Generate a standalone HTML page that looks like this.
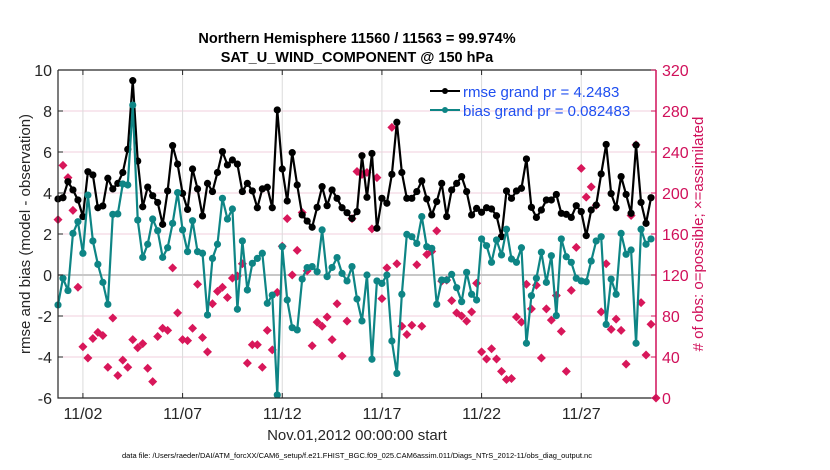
<!DOCTYPE html>
<html><head><meta charset="utf-8">
<style>
html,body{margin:0;padding:0;background:#fff;}
svg{display:block;font-family:"Liberation Sans",Arial,sans-serif;}
</style></head>
<body>
<svg id="chart" width="830" height="470" viewBox="0 0 830 470" xmlns="http://www.w3.org/2000/svg">
<text x="357" y="43" text-anchor="middle" font-size="14.5" font-weight="bold" fill="#000">Northern Hemisphere 11560 / 11563 = 99.974%</text>
<text x="357" y="62" text-anchor="middle" font-size="14.5" font-weight="bold" fill="#000">SAT_U_WIND_COMPONENT @ 150 hPa</text>
<g id="grid"></g>
<g id="marks"></g>
<g id="axes"></g>
<text transform="translate(30,234) rotate(-90)" text-anchor="middle" font-size="15" fill="#262626">rmse and bias (model - observation)</text>
<text transform="translate(703,234) rotate(-90)" text-anchor="middle" font-size="15" fill="#d0105a"># of obs: o=possible; ×=assimilated</text>
<text x="357" y="440" text-anchor="middle" font-size="15" fill="#262626">Nov.01,2012 00:00:00 start</text>
<text x="357" y="458" text-anchor="middle" font-size="7.5" fill="#000">data file: /Users/raeder/DAI/ATM_forcXX/CAM6_setup/f.e21.FHIST_BGC.f09_025.CAM6assim.011/Diags_NTrS_2012-11/obs_diag_output.nc</text>
<g>
  <line x1="430" y1="91" x2="460" y2="91" stroke="#000" stroke-width="2"/>
  <circle cx="445" cy="91" r="3" fill="#000"/>
  <text x="463" y="97" font-size="15" fill="#1f4ff0">rmse grand pr = 4.2483</text>
  <line x1="430" y1="110" x2="460" y2="110" stroke="#0e8585" stroke-width="2"/>
  <circle cx="445" cy="110" r="3" fill="#0e8585"/>
  <text x="463" y="116" font-size="15" fill="#1f4ff0">bias grand pr = 0.082483</text>
</g>
</svg>
<script>
const rmse = [3.71,3.77,4.55,4.15,3.66,2.85,5.04,4.88,3.28,3.37,4.72,4.2,4.47,5.0,6.13,9.48,5.56,3.33,4.29,3.87,3.54,2.47,4.1,6.31,5.41,3.98,3.2,5.17,4.2,2.88,4.47,
4.07,5.0,6.02,5.37,5.61,5.41,4.07,4.47,4.1,3.28,4.2,4.28,3.28,8.05,5.17,3.61,5.97,4.39,2.93,2.63,2.33,3.3,4.31,3.38,4.15,3.74,3.28,3.04,2.76,3.09,
5.82,3.79,5.93,2.28,3.74,3.5,4.91,7.45,5.0,3.74,3.74,4.07,4.59,3.71,2.93,3.58,4.47,2.85,4.15,4.47,4.8,4.07,2.93,3.25,3.06,3.28,3.22,2.89,1.87,4.1,
3.74,4.1,4.23,5.66,3.3,2.81,3.17,3.66,3.66,3.93,3.01,2.96,2.81,3.38,3.09,1.92,3.17,3.41,4.93,6.37,3.97,3.28,4.8,3.93,3.01,6.34,3.54,2.52,3.77];
const bias = [-1.46,-0.16,-0.76,2.03,2.6,1.06,3.9,1.66,0.52,-0.36,-1.43,2.96,2.98,4.44,4.39,8.29,2.68,0.86,1.5,2.73,2.16,0.86,1.33,2.52,4.02,2.2,1.14,2.65,1.14,1.06,-1.95,
0.81,1.5,3.74,2.73,3.22,-1.67,1.66,-0.73,0.57,0.81,1.06,-1.38,-0.98,-5.85,1.38,-1.22,-2.57,-2.68,-0.2,0.36,0.41,0.16,2.2,-0.08,0.37,0.85,0.08,-0.29,0.41,-1.17,
-2.24,0,-4.11,-0.29,-0.41,0,-3.22,-4.8,-0.94,1.98,1.87,1.54,2.85,1.38,1.3,-1.43,-0.24,-0.24,0.03,-0.62,-1.3,0.13,-0.94,-1.22,1.76,1.43,0.62,1.71,0.98,2.23,
0.78,0.62,1.33,-3.33,-1.01,-0.16,1.11,-0.36,0.94,-1.98,1.76,0.89,0.62,-0.16,-0.29,-0.33,0.68,1.66,1.87,-2.41,-0.2,-0.94,2.03,1.01,1.22,-3.33,2.23,1.5,1.76];
const nobs = [174,227,215,183,108,50,39,58,64,61,30,78,22,37,30,57,49,53,29,16,60,68,66,127,83,57,56,68,111,59,45,
92,104,108,98,117,119,131,34,52,52,30,66,47,103,148,175,120,144,181,124,51,74,70,79,57,92,41,75,175,221,
218,220,165,215,97,127,264,131,70,62,71,130,70,140,143,163,114,115,95,83,80,75,84,112,45,38,48,38,26,18,
19,79,74,111,87,110,39,87,76,100,65,26,105,147,224,196,206,188,84,131,67,77,66,33,178,247,93,42,72,0];
const yTicks = [-6,-4,-2,0,2,4,6,8,10];
const y2Ticks = [0,40,80,120,160,200,240,280,320];
const xTickIdx = [5,25,45,65,85,105];
const xTickLabels = ["11/02","11/07","11/12","11/17","11/22","11/27"];

const L=58,R=656,T=70,B=398;
const NS="http://www.w3.org/2000/svg";
function xS(i){return L + i*(R-L)/120;}
function yS(v){return B - (v+6)/16*(B-T);}
function y2S(v){return B - v/320*(B-T);}
function mk(tag,attrs,parent){const e=document.createElementNS(NS,tag);for(const k in attrs)e.setAttribute(k,attrs[k]);parent.appendChild(e);return e;}
const grid=document.getElementById('grid'),marks=document.getElementById('marks'),axes=document.getElementById('axes');

yTicks.forEach(v=>{if(v===0||v===10||v===-6)return;
  const g=mk('line',{x1:L,x2:R,y1:yS(v),y2:yS(v),stroke:'#f2cfdc','stroke-width':1},grid);
  
  });
xTickIdx.forEach(i=>{
  const g=mk('line',{x1:xS(i),x2:xS(i),y1:T,y2:B,stroke:'#dcdcdc','stroke-width':1},grid);
  
  });
const zl=mk('line',{x1:L,x2:R,y1:yS(0),y2:yS(0),stroke:'#c8c8c8','stroke-width':2},grid);



nobs.forEach((v,i)=>{
  const x=xS(i),y=y2S(v),s=4.5;
  const d=mk('polygon',{points:`${x},${y-s} ${x+s},${y} ${x},${y+s} ${x-s},${y}`,fill:'#d8175a'},marks);
  
  
});
function series(arr,color,name){
  const p=mk('polyline',{points:arr.map((v,i)=>xS(i)+','+yS(v)).join(' '),fill:'none',stroke:color,'stroke-width':2.2,'stroke-linejoin':'round'},marks);
  
  
  arr.forEach((v,i)=>{
    const c=mk('circle',{cx:xS(i),cy:yS(v),r:3.6,fill:color},marks);
    
    
  });
}
series(rmse,'#000','rmse');
series(bias,'#0e8585','bias');

const fr=mk('path',{d:`M${L},${T}H${R}M${L},${T}V${B}H${R}`,stroke:'#262626','stroke-width':1.2,fill:'none'},axes);


const ra=mk('line',{x1:R,x2:R,y1:T,y2:B,stroke:'#d0105a','stroke-width':1.5},axes);


yTicks.forEach(v=>{
  mk('line',{x1:L,x2:L+5,y1:yS(v),y2:yS(v),stroke:'#262626'},axes);
  const t=mk('text',{x:L-6,y:yS(v)+6,'text-anchor':'end','font-size':16,fill:'#262626'},axes);
  t.textContent=v;
  
  
});
y2Ticks.forEach(v=>{
  mk('line',{x1:R-5,x2:R,y1:y2S(v),y2:y2S(v),stroke:'#d0105a'},axes);
  const t=mk('text',{x:R+6,y:y2S(v)+6,'font-size':16,fill:'#d0105a'},axes);
  t.textContent=v;
  
  
});
xTickIdx.forEach((i,k)=>{
  mk('line',{x1:xS(i),x2:xS(i),y1:B,y2:B-5,stroke:'#262626'},axes);
  mk('line',{x1:xS(i),x2:xS(i),y1:T,y2:T+5,stroke:'#262626'},axes);
  const t=mk('text',{x:xS(i),y:B+21,'text-anchor':'middle','font-size':16,fill:'#262626'},axes);
  t.textContent=xTickLabels[k];
  
  
});
</script>
</body></html>
